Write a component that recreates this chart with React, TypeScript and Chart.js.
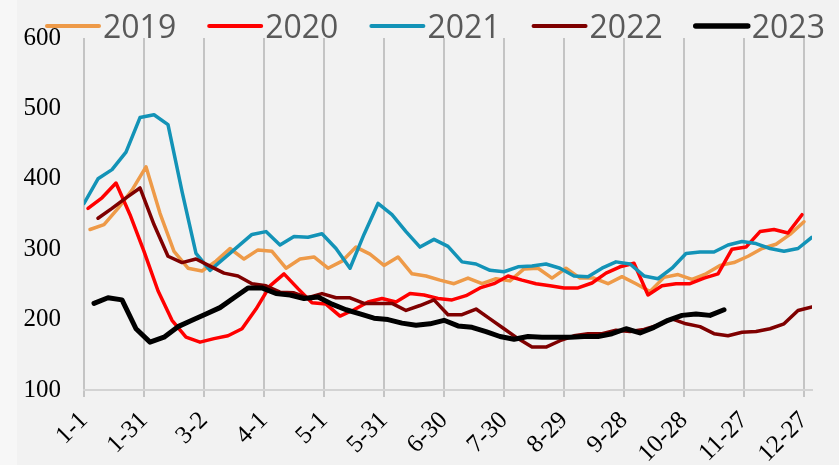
import React, { useEffect, useRef } from 'react';
import { Chart, registerables } from 'chart.js';

Chart.register(...registerables);

const years = ['2019', '2020', '2021', '2022', '2023'];
const colors = ['#EE9A48', '#FF0000', '#1393B7', '#7F0000', '#000000'];
const lineWidths = [3.5, 3.5, 3.5, 3.5, 5];
const firstDay = [3, 2, 0, 7, 5];

const s2019 = [328, 335, 358, 384, 417, 351, 297, 273, 269, 283, 301, 286, 299, 297, 273, 286, 289, 273, 283, 303, 293, 277, 289, 265, 262, 256, 251, 259, 251, 258, 255, 272, 273, 259, 273, 259, 259, 251, 261, 251, 240, 260, 264, 257, 265, 277, 281, 290, 301, 307, 321, 339];
const s2020 = [358, 373, 394, 349, 297, 241, 199, 175, 168, 173, 177, 187, 215, 248, 265, 244, 224, 222, 205, 214, 225, 230, 225, 237, 235, 230, 228, 234, 245, 251, 262, 256, 251, 248, 245, 245, 252, 266, 275, 280, 235, 248, 251, 251, 259, 265, 300, 303, 325, 328, 323, 349];
const s2021 = [365, 400, 413, 438, 487, 491, 477, 382, 294, 270, 287, 304, 321, 325, 306, 318, 317, 322, 301, 273, 321, 365, 349, 325, 303, 314, 304, 282, 279, 270, 268, 275, 276, 279, 273, 262, 261, 273, 282, 279, 262, 258, 273, 294, 296, 296, 306, 311, 308, 301, 297, 301, 317];
const s2022 = [344, 358, 373, 387, 335, 290, 281, 286, 276, 266, 262, 251, 248, 239, 238, 231, 237, 231, 231, 223, 223, 223, 213, 220, 228, 207, 207, 215, 201, 187, 173, 161, 161, 170, 177, 180, 180, 185, 183, 186, 192, 201, 194, 190, 180, 177, 182, 183, 187, 194, 213, 218];
const s2023 = [223, 231, 228, 187, 168, 175, 190, 199, 208, 217, 231, 245, 245, 237, 235, 230, 232, 222, 214, 208, 202, 200, 195, 192, 194, 199, 191, 189, 183, 176, 172, 176, 175, 175, 175, 176, 176, 180, 187, 181, 189, 199, 206, 208, 206, 214];

const tickLabels = ['1-1', '1-31', '3-2', '4-1', '5-1', '5-31', '6-30', '7-30', '8-29', '9-28', '10-28', '11-27', '12-27'];
const yMin = 100;
const yMax = 600;
const yStep = 100;
const tickDays = 30;
const lastDay = 364;

const series = [s2019, s2020, s2021, s2022, s2023];

const legendPlugin = {
  id: 'topLegend',
  afterDraw(chart: any) {
    const ctx = chart.ctx;
    ctx.save();
    ctx.font = '32px "Open Sans"';
    ctx.textBaseline = 'alphabetic';
    let x = 30;
    chart.data.datasets.forEach((ds: any) => {
      ctx.strokeStyle = ds.borderColor;
      ctx.lineWidth = ds.borderWidth + 0.5;
      ctx.lineCap = 'round';
      ctx.beginPath();
      ctx.moveTo(x, 26);
      ctx.lineTo(x + 52, 26);
      ctx.stroke();
      ctx.fillStyle = '#595959';
      ctx.fillText(ds.label, x + 56, 38);
      x += 56 + ctx.measureText(ds.label).width + 33;
    });
    ctx.restore();
  },
};

export default function App() {
  const ref = useRef<HTMLCanvasElement>(null);
  useEffect(() => {
    if (!ref.current) return;
    const chart = new Chart(ref.current, {
      type: 'line',
      data: {
        datasets: years.map((y, k) => ({
          label: y,
          data: series[k].map((v, i) => ({ x: firstDay[k] + 7 * i, y: v })),
          borderColor: colors[k],
          backgroundColor: colors[k],
          borderWidth: lineWidths[k],
          pointRadius: 0,
          tension: 0,
          borderJoinStyle: 'round' as const,
          borderCapStyle: 'round' as const,
          order: years.length - k,
        })),
      },
      options: {
        animation: false,
        responsive: false,
        layout: { padding: { top: 35, right: 27, left: 0, bottom: 0 } },
        plugins: { legend: { display: false }, tooltip: { enabled: false } },
        scales: {
          x: {
            type: 'linear',
            min: 0,
            max: lastDay,
            afterFit: (s: any) => { s.height = 75; },
            ticks: {
              stepSize: tickDays,
              includeBounds: false,
              autoSkip: false,
              minRotation: 45,
              maxRotation: 45,
              padding: 9,
              color: '#000',
              font: { family: '"Liberation Serif"', size: 25 },
              callback: (v: any) => tickLabels[Math.round(Number(v) / tickDays)] ?? '',
            },
            grid: { color: '#C4C4C4', lineWidth: 2, tickLength: 7, drawTicks: true },
            border: { display: true, color: '#D3D3D3', width: 2 },
          },
          y: {
            min: yMin,
            max: yMax,
            afterFit: (s: any) => { s.width = 67; },
            ticks: {
              stepSize: yStep,
              padding: 23,
              color: '#000',
              font: { family: '"Liberation Serif"', size: 25 },
            },
            grid: { display: false, drawTicks: false },
            border: { display: false },
          },
        },
      },
      plugins: [legendPlugin],
    });
    return () => chart.destroy();
  }, []);
  return (
    <div style={{ position: 'fixed', left: 0, top: 0, width: 839, height: 465, background: '#F7F7F7' }}>
      <canvas
        ref={ref}
        width={822}
        height={465}
        style={{ position: 'absolute', left: 17, top: 0, width: 822, height: 465, background: '#F2F2F2' }}
      />
    </div>
  );
}
